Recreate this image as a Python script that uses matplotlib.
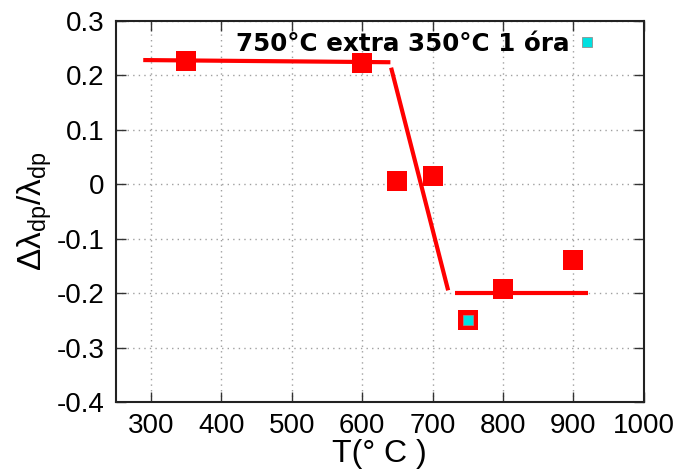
import matplotlib
matplotlib.use('Agg')
import matplotlib.pyplot as plt

plt.rcParams['font.family'] = ['Liberation Sans', 'DejaVu Sans']
plt.rcParams['axes.unicode_minus'] = False
plt.rcParams['mathtext.fontset'] = 'custom'
plt.rcParams['mathtext.rm'] = 'Liberation Sans'
plt.rcParams['mathtext.it'] = 'Liberation Sans'

# measured points
temp = [350, 600, 650, 700, 750, 800, 900]
dlam = [0.227, 0.223, 0.005, 0.015, -0.250, -0.192, -0.140]

# extra treated sample
extra_temp = [750]
extra_dlam = [-0.250]

# fitted step (three pieces)
fit1_x = [289, 640]
fit1_y = [0.228, 0.224]
fit2_x = [641, 722]
fit2_y = [0.214, -0.195]
fit3_x = [732, 920]
fit3_y = [-0.200, -0.200]

xticks = [300, 400, 500, 600, 700, 800, 900, 1000]
yticks = [0.3, 0.2, 0.1, 0, -0.1, -0.2, -0.3, -0.4]
ytick_labels = ['0.3', '0.2', '0.1', '0', '-0.1', '-0.2', '-0.3', '-0.4']

fig = plt.figure(figsize=(6.85, 4.74), dpi=100)
ax = fig.add_axes([0.169, 0.152, 0.771, 0.804])

ax.grid(True, color='#a0a0a0', linestyle=(0, (1, 3)), linewidth=1.0)
ax.set_axisbelow(True)

# fit lines
for fx, fy in [(fit1_x, fit1_y), (fit2_x, fit2_y), (fit3_x, fit3_y)]:
    ax.plot(fx, fy, color='#ff0000', linewidth=3.0, solid_capstyle='butt', zorder=2)

# data squares
ax.plot(temp, dlam, 's', color='#ff0000', markersize=14, markeredgewidth=0, zorder=3)

# extra point (cyan)
ax.plot(extra_temp, extra_dlam, 's', color='#00e0e0', markersize=7,
        markeredgecolor='#909090', markeredgewidth=0.6, zorder=4,
        label='750°C extra 350°C 1 óra')

leg = ax.legend(loc='center right', frameon=False, markerfirst=False,
                prop={'family': 'DejaVu Sans', 'weight': 'bold', 'size': 17.7},
                handlelength=0.6, handletextpad=0.4, borderaxespad=0.0,
                bbox_to_anchor=(604 / 685, (474 - 44) / 474),
                bbox_transform=fig.transFigure)

ax.set_xlim(250, 1000)
ax.set_ylim(-0.4, 0.3)
ax.set_xticks(xticks)
ax.set_yticks(yticks)
ax.set_yticklabels(ytick_labels)

ax.tick_params(direction='in', length=7, width=1.0, top=True, right=True,
               labelsize=20, pad=8, color='#333333')
for s in ax.spines.values():
    s.set_linewidth(1.5)
    s.set_color('#222222')

ax.set_xlabel('T(° C )', fontsize=23, labelpad=0)
ax.set_ylabel('Δλ$_{\\rm dp}$/λ$_{\\rm dp}$', fontsize=24, labelpad=2)

fig.savefig('out.png', dpi=100)
